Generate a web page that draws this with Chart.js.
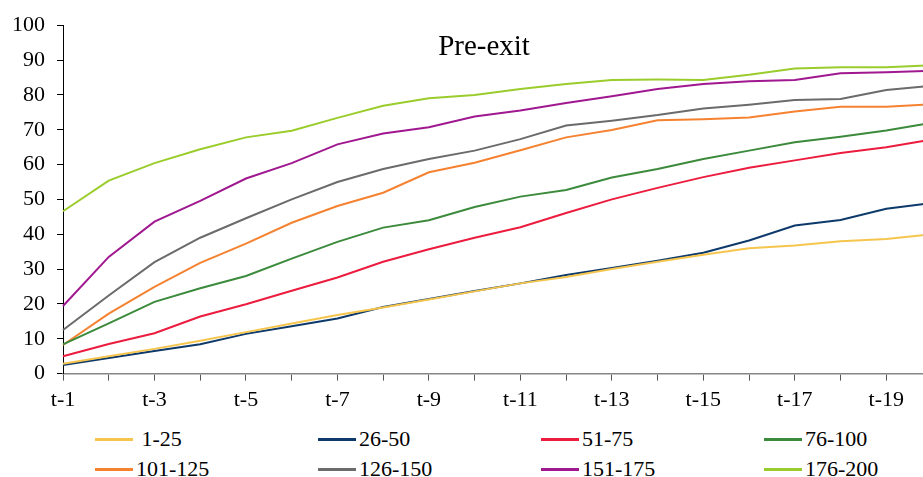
<!DOCTYPE html>
<html lang="en">
  <head>
    <meta charset="UTF-8" />
    <title>Pre-exit</title>
    <script src="https://cdn.jsdelivr.net/npm/chart.js@4"></script>
    <style>
      body { margin: 0; overflow: hidden; background: #fff; font-family: "Liberation Serif", serif; }
      #wrap { position: relative; width: 923px; height: 477px; overflow: hidden; }
      #myChart { position: absolute; left: 0; top: 0; }
      .item { position: absolute; display: flex; align-items: center; font-size: 22px; color: #000; white-space: pre; height: 24px; }
      .item span.swatch { display: inline-block; width: 38px; height: 3px; margin-right: 3px; }
    </style>
  </head>
  <body>
    <div id="wrap">
      <canvas id="myChart" width="940" height="420"></canvas>
      <div id="legend"></div>
    </div>
    <script>
      // values
      const periods = ['t-1', 't-2', 't-3', 't-4', 't-5', 't-6', 't-7', 't-8', 't-9', 't-10',
                       't-11', 't-12', 't-13', 't-14', 't-15', 't-16', 't-17', 't-18', 't-19', 't-20'];

      const names = [' 1-25', '26-50', '51-75', '76-100', '101-125', '126-150', '151-175', '176-200'];
      const colours = ['#F5C54E', '#0E3A6B', '#EC1C3E', '#3C8A3C', '#F58230', '#6B6B6B', '#A01890', '#9ACD2C'];

      const r1_25    = [2.8, 5.0, 7.1, 9.4, 11.9, 14.4, 16.8, 19.0, 21.3, 23.6, 25.9, 27.7, 30.0, 32.1, 34.1, 36.0, 36.8, 38.0, 38.6, 40.0];
      const r26_50   = [2.5, 4.5, 6.5, 8.4, 11.4, 13.6, 15.8, 19.1, 21.4, 23.7, 25.9, 28.3, 30.3, 32.4, 34.7, 38.2, 42.5, 44.1, 47.3, 49.0];
      const r51_75   = [5.0, 8.5, 11.6, 16.4, 19.9, 23.8, 27.6, 32.1, 35.7, 39.0, 42.0, 46.1, 50.0, 53.3, 56.4, 59.1, 61.2, 63.3, 65.0, 67.2];
      const r76_100  = [8.4, 14.4, 20.6, 24.5, 28.0, 33.0, 37.8, 41.9, 44.0, 47.8, 50.8, 52.7, 56.3, 58.7, 61.6, 64.0, 66.4, 68.0, 69.8, 72.0];
      const r101_125 = [8.2, 17.2, 24.9, 31.8, 37.3, 43.3, 48.1, 51.9, 57.8, 60.5, 64.1, 67.8, 69.9, 72.7, 73.0, 73.5, 75.2, 76.6, 76.6, 77.3];
      const r126_150 = [12.5, 22.4, 32.0, 39.0, 44.6, 50.0, 55.0, 58.7, 61.6, 64.0, 67.3, 71.2, 72.6, 74.2, 76.1, 77.2, 78.5, 78.8, 81.4, 82.6];
      const r151_175 = [19.4, 33.5, 43.6, 49.6, 56.0, 60.4, 65.8, 68.9, 70.7, 73.8, 75.5, 77.7, 79.6, 81.7, 83.1, 83.9, 84.3, 86.2, 86.5, 86.9];
      const r176_200 = [46.6, 55.4, 60.4, 64.4, 67.8, 69.7, 73.4, 76.9, 79.0, 80.0, 81.7, 83.1, 84.3, 84.4, 84.3, 85.8, 87.6, 87.9, 87.9, 88.5];

      const series = [r1_25, r26_50, r51_75, r76_100, r101_125, r126_150, r151_175, r176_200];
      const yTicks = [0, 10, 20, 30, 40, 50, 60, 70, 80, 90, 100];

      const serif = '"Liberation Serif", "Times New Roman", serif';

      // title sits inside the plot area, so draw it by hand
      const titlePlugin = {
        id: 'insideTitle',
        afterDraw(chart) {
          const ctx = chart.ctx;
          const a = chart.chartArea;
          ctx.save();
          ctx.font = '29px ' + serif;
          ctx.fillStyle = '#000';
          ctx.textAlign = 'center';
          ctx.textBaseline = 'alphabetic';
          ctx.fillText('Pre-exit', a.left + (a.right - a.left) * 0.4845, 55);
          ctx.restore();
        }
      };

      const ctx = document.getElementById('myChart').getContext('2d');
      const myChart = new Chart(ctx, {
        type: 'line',
        data: {
          labels: periods,
          datasets: series.map((vals, i) => ({
            label: names[i],
            data: vals,
            borderColor: colours[i],
            backgroundColor: colours[i],
            borderWidth: 2,
            pointRadius: 0,
            tension: 0,
            fill: false
          }))
        },
        options: {
          responsive: false,
          animation: false,
          layout: { padding: { top: 25, right: 8, bottom: 1, left: 0 } },
          plugins: {
            legend: { display: false },
            tooltip: { enabled: false }
          },
          scales: {
            x: {
              offset: false,
              grid: { drawOnChartArea: false, drawTicks: true, tickLength: 7, color: '#555' },
              border: { display: true, color: '#868686', width: 1.5 },
              ticks: {
                autoSkip: false,
                maxRotation: 0,
                padding: 6,
                color: '#000',
                font: { family: serif, size: 22 },
                callback: (v, i) => (i % 2 === 0 ? periods[i] : '')
              }
            },
            y: {
              min: 0,
              max: 100,
              afterBuildTicks: (scale) => { scale.ticks = yTicks.map(v => ({ value: v })); },
              afterFit: (scale) => { scale.width = 63; },
              grid: { drawOnChartArea: false, drawTicks: true, tickLength: 6, color: '#000' },
              border: { display: true, color: '#000', width: 1 },
              ticks: {
                padding: 12,
                color: '#000',
                font: { family: serif, size: 22 }
              }
            }
          }
        },
        plugins: [titlePlugin]
      });

      // legend in four columns, two rows, under the plot
      const legend = document.getElementById('legend');
      const colX = [95, 318, 541, 764];
      const rowY = [427, 457];
      myChart.data.datasets.forEach((ds, i) => {
        const div = document.createElement('div');
        div.className = 'item';
        div.style.left = colX[i % 4] + 'px';
        div.style.top = rowY[Math.floor(i / 4)] + 'px';
        const sw = document.createElement('span');
        sw.className = 'swatch';
        sw.style.background = ds.borderColor;
        div.appendChild(sw);
        div.appendChild(document.createTextNode(ds.label));
        legend.appendChild(div);
      });
    </script>
  </body>
</html>
